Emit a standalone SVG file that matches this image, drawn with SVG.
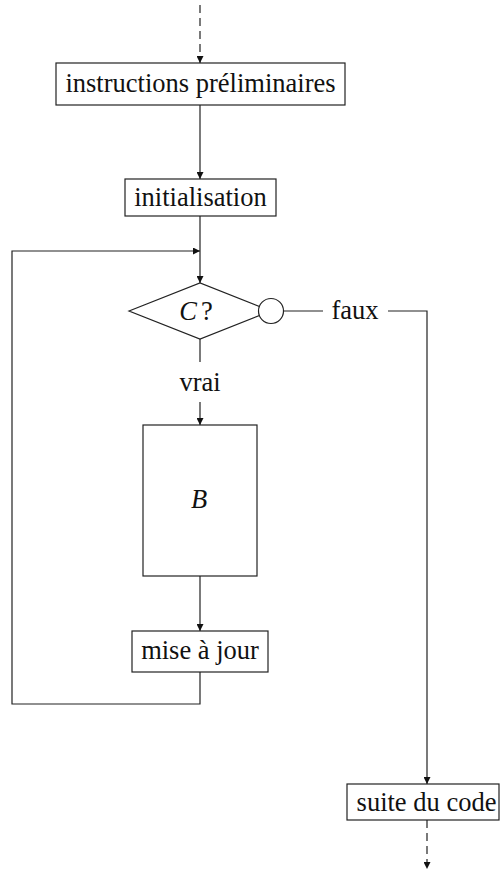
<svg xmlns="http://www.w3.org/2000/svg" width="500" height="877" viewBox="0 0 500 877">
  <style>
    .box { fill: #fff; stroke: #222; stroke-width: 1.2; }
    .line { fill: none; stroke: #222; stroke-width: 1.2; }
    .dash { stroke-dasharray: 8 5; }
    .lbl { font-family: "Liberation Serif", "Times New Roman", serif; font-size: 26.5px; fill: #111; text-anchor: middle; }
    .it { font-style: italic; }
  </style>
  <defs>
    <marker id="arrow" viewBox="0 0 10 10" refX="10" refY="5" markerWidth="8" markerHeight="7" markerUnits="userSpaceOnUse" orient="auto">
      <path d="M0,0 L10,5 L0,10 z" fill="#111"/>
    </marker>
  </defs>

  <g id="connectors">
    <line class="line dash" x1="200" y1="5" x2="200" y2="63" marker-end="url(#arrow)"/>
    <line class="line" x1="200" y1="105" x2="200" y2="179" marker-end="url(#arrow)"/>
    <line class="line" x1="200" y1="216" x2="200" y2="283" marker-end="url(#arrow)"/>
    <polyline class="line" points="200,672 200,704 12,704 12,251 200,251" marker-end="url(#arrow)"/>
    <line class="line" x1="200" y1="339" x2="200" y2="362"/>
    <line class="line" x1="200" y1="402" x2="200" y2="425" marker-end="url(#arrow)"/>
    <line class="line" x1="200" y1="576" x2="200" y2="631" marker-end="url(#arrow)"/>
    <line class="line" x1="284" y1="311" x2="323" y2="311"/>
    <polyline class="line" points="388,311 427,311 427,784" marker-end="url(#arrow)"/>
    <line class="line dash" x1="427" y1="820" x2="427" y2="869" marker-end="url(#arrow)"/>
  </g>

  <g id="node-prelim">
    <rect class="box" x="56" y="63" width="289" height="42"/>
    <text class="lbl" x="200.5" y="92">instructions préliminaires</text>
  </g>

  <g id="node-init">
    <rect class="box" x="125" y="179" width="151" height="37"/>
    <text class="lbl" x="200.5" y="206">initialisation</text>
  </g>

  <g id="node-cond">
    <polygon class="box" points="129,311 200,283 271,311 200,339"/>
    <text class="lbl" x="196" y="320"><tspan class="it">C</tspan><tspan dx="4">?</tspan></text>
    <circle class="box" cx="271" cy="311" r="12.5"/>
  </g>

  <g id="label-faux">
    <text class="lbl" x="355" y="319">faux</text>
  </g>

  <g id="label-vrai">
    <text class="lbl" x="200" y="391">vrai</text>
  </g>

  <g id="node-body">
    <rect class="box" x="143" y="425" width="114" height="151"/>
    <text class="lbl it" x="199" y="508">B</text>
  </g>

  <g id="node-update">
    <rect class="box" x="132" y="631" width="136" height="41"/>
    <text class="lbl" x="200" y="659">mise à jour</text>
  </g>

  <g id="node-next">
    <rect class="box" x="347" y="784" width="152" height="36"/>
    <text class="lbl" x="426.5" y="811">suite du code</text>
  </g>
</svg>
